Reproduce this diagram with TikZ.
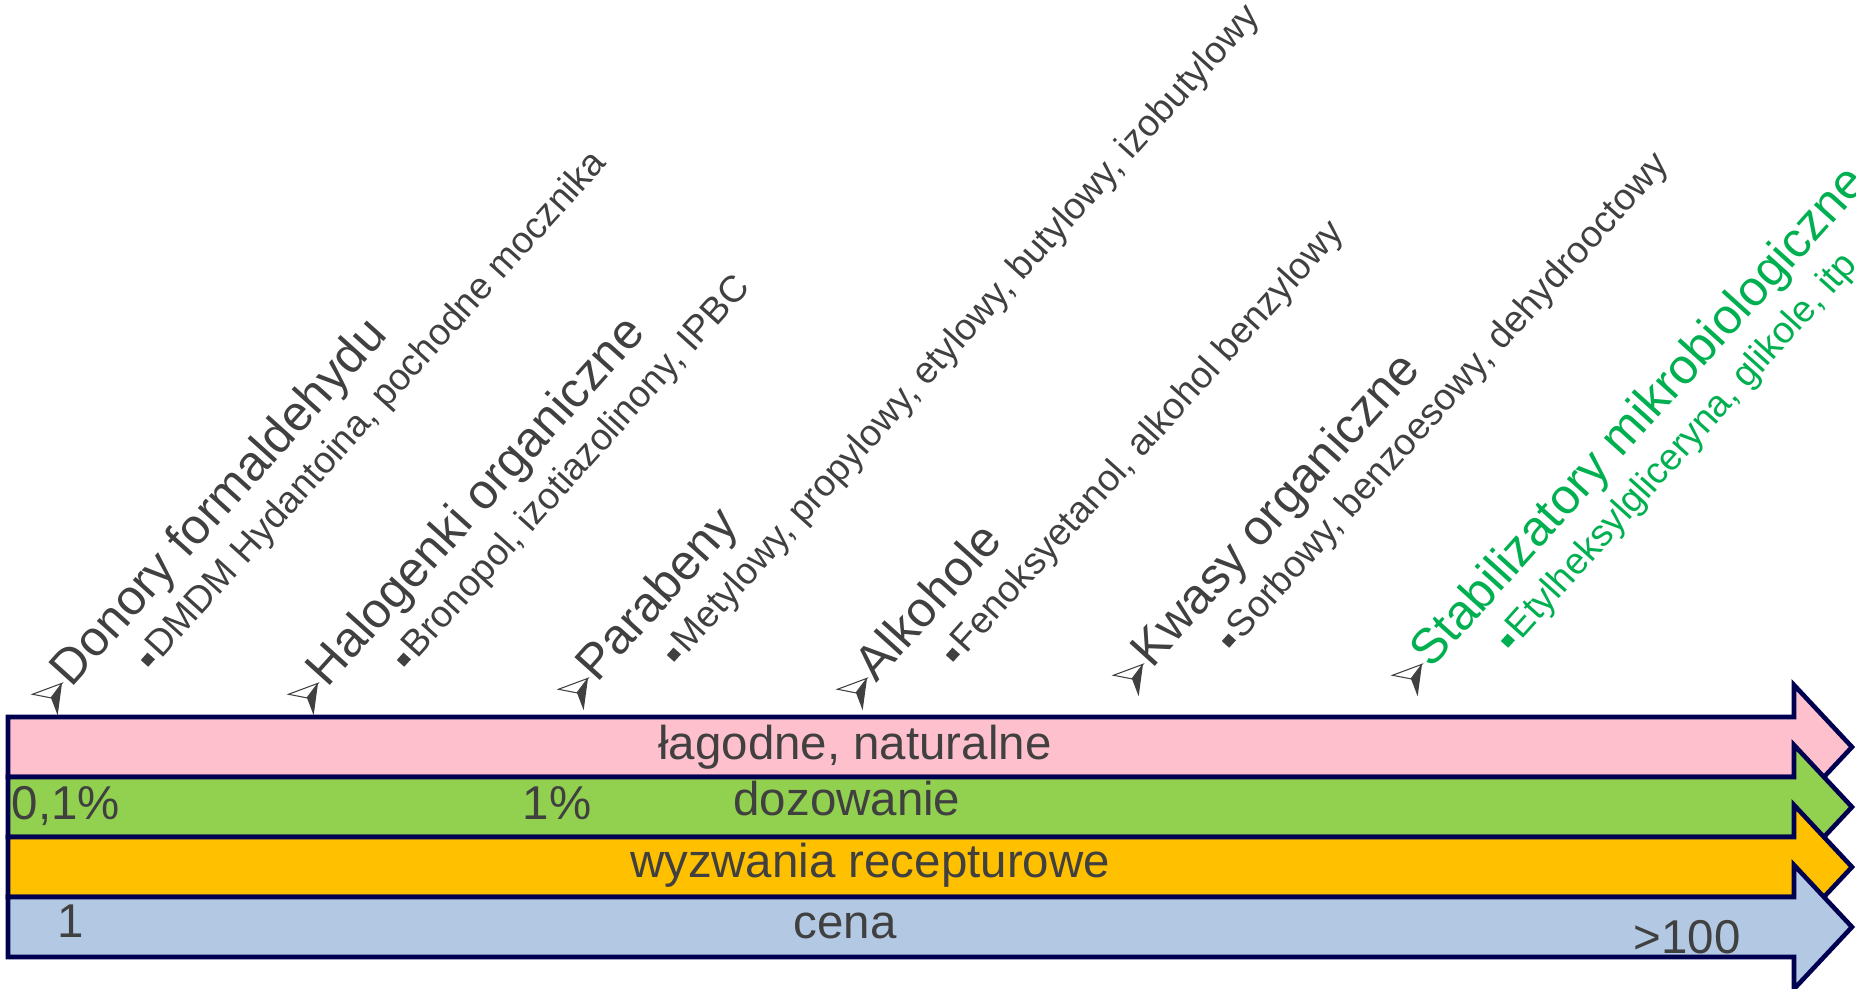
\documentclass[tikz,border=0pt]{standalone}
\usepackage{fontspec}
\setmainfont{Liberation Sans}
\definecolor{tekst}{HTML}{404040}
\definecolor{zielony}{HTML}{00B050}
\definecolor{obrys}{HTML}{000050}
\definecolor{rozowy}{HTML}{FFC0CE}
\definecolor{trawa}{HTML}{92D050}
\definecolor{pomarancz}{HTML}{FFC000}
\definecolor{niebieski}{HTML}{B3C8E3}
\begin{document}
\begin{tikzpicture}[x=0.1mm,y=0.1mm,
		pasek/.style={draw=obrys,line width=1.3pt,line join=miter},
		etykieta/.style={text=tekst,inner sep=0pt,font=\fontsize{13.5}{16}\selectfont},
		tytul/.style={anchor=base west,inner sep=0pt,font=\fontsize{14.1}{16}\selectfont},
		opis/.style={anchor=base west,inner sep=0pt,font=\fontsize{10.6}{12}\selectfont},
		punkt/.style={rectangle,inner sep=0pt,minimum size=1mm}]
	\useasboundingbox (0,0) rectangle (1856,988);

	% paski ze strzalkami
	\foreach \yc/\kol in {241/rozowy,181/trawa,121/pomarancz,61/niebieski}
		\draw[pasek,fill=\kol] (8,\yc+30) -- (1794,\yc+30) -- (1794,\yc+62) -- (1852,\yc)
			-- (1794,\yc-62) -- (1794,\yc-30) -- (8,\yc-30) -- cycle;

	\node[etykieta,anchor=base] (lag) at (855,229) {łagodne, naturalne};
	\node[etykieta,anchor=base] (doz) at (847,173) {dozowanie};
	\node[etykieta,anchor=base west] (p01) at (11,169) {0,1\%};
	\node[etykieta,anchor=base west] (p1) at (522,169) {1\%};
	\node[etykieta,anchor=base] (wyz) at (870,111) {wyzwania recepturowe};
	\node[etykieta,anchor=base] (cen) at (845,50) {cena};
	\node[etykieta,anchor=base west] (c1) at (57,51) {1};
	\node[etykieta,anchor=base west] (c100) at (1633,35) {>100};

	% grupy konserwantow
	\foreach \x/\y/\kol/\nazwa/\lista [count=\i] in {
			56/715/tekst/{Donory formaldehydu}/{DMDM Hydantoina, pochodne mocznika},
			312/715/tekst/{Halogenki organiczne}/{Bronopol, izotiazolinony, IPBC},
			582/710/tekst/{Parabeny}/{Metylowy, propylowy, etylowy, butylowy, izobutylowy},
			861/710/tekst/{Alkohole}/{Fenoksyetanol, alkohol benzylowy},
			1137/696/tekst/{Kwasy organiczne}/{Sorbowy, benzoesowy, dehydrooctowy},
			1416/696/zielony/{Stabilizatory mikrobiologiczne}/{Etylheksylgliceryna, glikole, itp}}
	{
		\begin{scope}[shift={(\x+6,988-\y+31.7)},rotate=48,transform shape]
			\coordinate (m\i) at (0,0);
			\fill[tekst] (m\i) -- (-18.2,-1.6) -- (-26.7,-18.2) -- cycle;
			\draw[tekst,fill=white,line width=0.3pt] (m\i) -- (-27.9,14.6) -- (-18.2,-1.6) -- cycle;
			\node[tytul,text=\kol] (t\i) at (2,-10.6) {\nazwa};
			\node[punkt,fill=\kol] (p\i) at (75,-48) {};
			\node[opis,text=\kol] (o\i) at (84,-58) {\lista};
		\end{scope}
	}
\end{tikzpicture}
\end{document}
